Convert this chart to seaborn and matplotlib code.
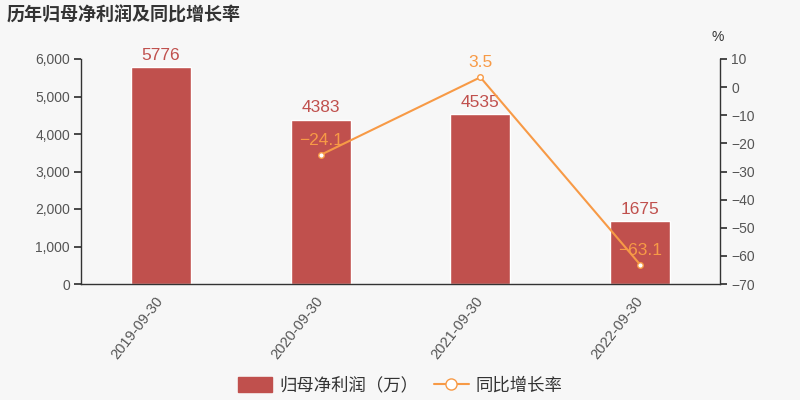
import matplotlib
matplotlib.use("Agg")
import matplotlib.pyplot as plt
import seaborn as sns
import pandas as pd
import numpy as np
from matplotlib.lines import Line2D
from matplotlib.patches import Patch

categories = ["2019-09-30", "2020-09-30", "2021-09-30", "2022-09-30"]
profit = [5776, 4383, 4535, 1675]
growth = [np.nan, -24.1, 3.5, -63.1]
profit_labels = ["5776", "4383", "4535", "1675"]
growth_labels = ["", "\u221224.1", "3.5", "\u221263.1"]

sns.set_theme(style="white")
plt.rcParams['font.family'] = ['Noto Sans CJK SC', 'DejaVu Sans']
plt.rcParams['axes.unicode_minus'] = True

bg = "#f7f7f7"
bar_color = "#c0504d"
line_color = "#f79a46"
axis_color = "#333333"
text_color = "#555555"
latin = ['Liberation Sans', 'DejaVu Sans']

fig = plt.figure(figsize=(8, 4), dpi=100, facecolor=bg)
ax = fig.add_axes([0.10125, 0.29, 0.79875, 0.5625])
ax.set_facecolor(bg)

df = pd.DataFrame({"date": categories, "profit": profit, "growth": growth})
sns.barplot(data=df, x="date", y="profit", ax=ax, color=bar_color, width=0.375, saturation=1)
ax.set_xlim(-0.5, 3.5)
ax.set_ylim(0, 6000)
ax.set_yticks(range(0, 6001, 1000))
ax.set_yticklabels([f"{v:,}" for v in range(0, 6001, 1000)], fontsize=10, color=text_color, family=latin)
ax.set_xlabel("")
ax.set_ylabel("")
ax.set_xticks([-0.5, 0.5, 1.5, 2.5, 3.5], minor=False)
ax.set_xticklabels([])
ax.tick_params(axis="x", which="major", length=5, color=axis_color, direction="out")
ax.tick_params(axis="y", length=5, color=axis_color, direction="out", pad=3)
for i, cat in enumerate(categories):
    ax.annotate(cat, (i, 0), xycoords=("data", "axes fraction"), xytext=(-4, -7), textcoords="offset points",
                rotation=52, ha="right", va="top", rotation_mode="anchor", fontsize=10.5,
                color=text_color, family=latin)
for s in ["top", "right"]:
    ax.spines[s].set_visible(False)
for s in ["left", "bottom"]:
    ax.spines[s].set_color(axis_color)
    ax.spines[s].set_linewidth(1)

for i, (v, lab) in enumerate(zip(profit, profit_labels)):
    ax.annotate(lab, (i, v), xytext=(0, 3), textcoords="offset points", ha="center", va="bottom",
                color=bar_color, fontsize=12.5, family=latin)

ax2 = ax.twinx()
sns.lineplot(data=df, x="date", y="growth", ax=ax2, color=line_color, linewidth=1.5,
             marker="o", markersize=4, markerfacecolor="white", markeredgecolor=line_color, markeredgewidth=1)
ax2.set_ylim(-70, 10)
ax2.set_yticks(range(-70, 11, 10))
ax2.set_yticklabels([str(v).replace("-", "\u2212") for v in range(-70, 11, 10)], fontsize=10, color=text_color, family=latin)
ax2.set_ylabel("")
ax2.set_xlabel("")
ax2.tick_params(axis="y", length=5, color=axis_color, direction="out", pad=3)
for s in ["top", "left", "bottom"]:
    ax2.spines[s].set_visible(False)
ax2.spines["right"].set_color(axis_color)
ax2.spines["right"].set_linewidth(1)
ax2.text(0.997, 1.065, "%", transform=ax2.transAxes, ha="center", va="bottom", fontsize=10, color="#333333", family=latin)

for i, (v, lab) in enumerate(zip(growth, growth_labels)):
    if lab:
        ax2.annotate(lab, (i, v), xytext=(0, 5), textcoords="offset points", ha="center", va="bottom",
                     color=line_color, fontsize=12.5, family=latin)

fig.text(0.008, 0.962, "历年归母净利润及同比增长率", ha="left", va="center", fontsize=13, fontweight="bold", color="#333333")

handles = [Patch(facecolor=bar_color, edgecolor=bar_color),
           Line2D([0], [0], color=line_color, marker="o", markerfacecolor="white", markeredgecolor=line_color, markersize=8, linewidth=1.5)]
leg = fig.legend(handles, ["归母净利润（万）", "同比增长率"], loc="center", bbox_to_anchor=(0.5, 0.036), ncol=2,
                 frameon=False, fontsize=12.5, handlelength=2.0, handleheight=0.9, columnspacing=0.9, handletextpad=0.4)
for t in leg.get_texts():
    t.set_color("#333333")

fig.savefig("out.png", dpi=100, facecolor=bg)
